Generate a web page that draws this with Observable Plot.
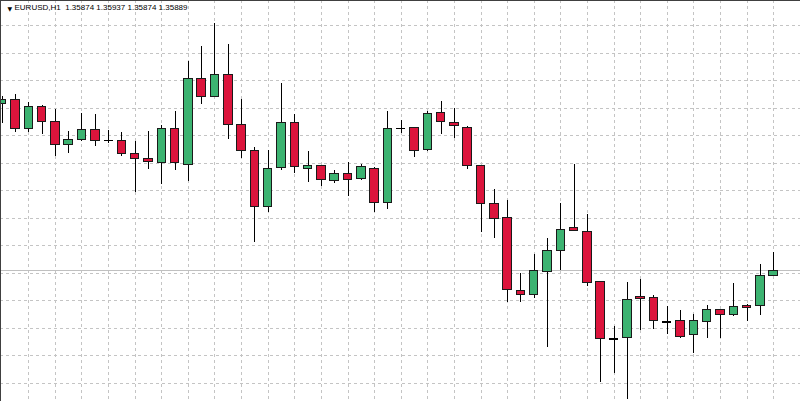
<!DOCTYPE html>
<html>
<head>
<meta charset="utf-8">
<script src="https://cdn.jsdelivr.net/npm/d3@7"></script>
<script src="https://cdn.jsdelivr.net/npm/@observablehq/plot@0.6"></script>
<style>
  html, body { margin: 0; padding: 0; background: #fff; }
  #chart svg { display: block; }
</style>
</head>
<body>
<div id="chart"></div>
<script>
// ---- Data (EURUSD, H1) ----
const symbol = "EURUSD";
const timeframe = "H1";

const open = [
  1.36344, 1.36353, 1.36276, 1.36334, 1.36295, 1.36231, 1.36244, 1.36272, 1.36244, 1.36243,
  1.36208, 1.36193, 1.36183, 1.36274, 1.36178, 1.36412, 1.36362, 1.36423, 1.36286, 1.36216,
  1.36061, 1.36169, 1.36292, 1.36166, 1.36173, 1.36134, 1.36152, 1.36139, 1.36167, 1.36072,
  1.36277, 1.36278, 1.36218, 1.36319, 1.36292, 1.36278, 1.36174, 1.36071, 1.36032, 1.35834,
  1.35823, 1.35886, 1.35941, 1.36004, 1.35995, 1.35857, 1.35702, 1.35706, 1.35817, 1.35815,
  1.35748, 1.35750, 1.35712, 1.35749, 1.35781, 1.35768, 1.35793, 1.35791, 1.35874
];
const high = [
  1.36364, 1.36368, 1.36348, 1.36339, 1.36328, 1.36268, 1.36318, 1.36314, 1.36271, 1.36265,
  1.36242, 1.36268, 1.36284, 1.36323, 1.36460, 1.36500, 1.36562, 1.36505, 1.36355, 1.36225,
  1.36216, 1.36400, 1.36314, 1.36214, 1.36175, 1.36161, 1.36184, 1.36178, 1.36169, 1.36323,
  1.36298, 1.36280, 1.36324, 1.36350, 1.36332, 1.36282, 1.36176, 1.36111, 1.36080, 1.35882,
  1.35932, 1.35976, 1.36073, 1.36177, 1.36041, 1.35859, 1.35736, 1.35857, 1.35864, 1.35820,
  1.35792, 1.35779, 1.35769, 1.35793, 1.35783, 1.35854, 1.35795, 1.35905, 1.35937
];
const low = [
  1.36289, 1.36266, 1.36266, 1.36260, 1.36201, 1.36209, 1.36242, 1.36228, 1.36235, 1.36200,
  1.36101, 1.36164, 1.36124, 1.36162, 1.36133, 1.36342, 1.36360, 1.36247, 1.36194, 1.35965,
  1.36048, 1.36162, 1.36154, 1.36130, 1.36119, 1.36126, 1.36092, 1.36135, 1.36048, 1.36055,
  1.36262, 1.36198, 1.36214, 1.36259, 1.36250, 1.36165, 1.35992, 1.35976, 1.35802, 1.35801,
  1.35814, 1.35680, 1.35889, 1.35995, 1.35846, 1.35583, 1.35609, 1.35536, 1.35725, 1.35729,
  1.35715, 1.35704, 1.35664, 1.35704, 1.35704, 1.35764, 1.35751, 1.35766, 1.35874
];
const close = [
  1.36355, 1.36276, 1.36334, 1.36295, 1.36231, 1.36244, 1.36272, 1.36242, 1.36244, 1.36207,
  1.36192, 1.36185, 1.36274, 1.36181, 1.36412, 1.36362, 1.36423, 1.36286, 1.36216, 1.36061,
  1.36165, 1.36292, 1.36172, 1.36173, 1.36135, 1.36152, 1.36137, 1.36170, 1.36074, 1.36276,
  1.36277, 1.36216, 1.36316, 1.36294, 1.36283, 1.36174, 1.36071, 1.36030, 1.35836, 1.35822,
  1.35887, 1.35942, 1.36000, 1.35997, 1.35856, 1.35701, 1.35702, 1.35809, 1.35812, 1.35751,
  1.35748, 1.35709, 1.35752, 1.35780, 1.35769, 1.35790, 1.35786, 1.35874, 1.35889
];

// horizontal grid levels (price)
const gridPrices = [
  1.36556, 1.36481, 1.36406, 1.36331, 1.36256, 1.36181, 1.36106,
  1.36031, 1.35956, 1.35881, 1.35806, 1.35731, 1.35656, 1.35581
];

// visible window of the chart
const xDomain = [-0.1255, 60.017];
const yDomain = [1.355318, 1.366254];

// ---- Build ----
const candles = open.map((o, i) => ({ i, o, h: high[i], l: low[i], c: close[i] }));
const bodies = candles.filter(d => d.o !== d.c);
const dojis = candles.filter(d => d.o === d.c);
const gridIdx = candles.filter(d => d.i > 0 && d.i % 2 === 0).map(d => d.i);
const last = candles[candles.length - 1];
const fmt = v => v.toFixed(5);
const header = `${symbol},${timeframe}\u00a0\u00a0${fmt(last.o)} ${fmt(last.h)} ${fmt(last.l)} ${fmt(last.c)}`;

const UP = "#3CB371", DOWN = "#DC143C", GRID = "#c4c4c4";

const chart = Plot.plot({
  width: 800,
  height: 401,
  margin: 0,
  style: { background: "#fff", fontFamily: "Liberation Sans, Arial, sans-serif" },
  x: { type: "linear", domain: xDomain, range: [0, 800], axis: null },
  y: { type: "linear", domain: yDomain, range: [401, 0], axis: null },
  marks: [
    Plot.ruleY(gridPrices, { stroke: GRID, strokeDasharray: "3,3", shapeRendering: "crispEdges" }),
    Plot.ruleX(gridIdx, { stroke: GRID, strokeDasharray: "3,3", shapeRendering: "crispEdges" }),
    Plot.ruleY([last.c], { stroke: "#c0c0c0", shapeRendering: "crispEdges" }),
    Plot.ruleX(candles, { x: "i", y1: "l", y2: "h", stroke: "#000", strokeWidth: 1, shapeRendering: "crispEdges" }),
    Plot.rect(bodies, {
      x1: d => d.i - 0.32, x2: d => d.i + 0.32,
      y1: "o", y2: "c",
      fill: d => d.c > d.o ? UP : DOWN,
      stroke: "#1a1a1a", strokeWidth: 1, shapeRendering: "crispEdges"
    }),
    Plot.ruleY(dojis, { y: "o", x1: d => d.i - 0.34, x2: d => d.i + 0.34, stroke: "#000", strokeWidth: 1.5, shapeRendering: "crispEdges" }),
    Plot.ruleY([yDomain[1]], { stroke: "#404040", shapeRendering: "crispEdges" }),
    Plot.ruleX([xDomain[0]], { stroke: "#404040", shapeRendering: "crispEdges" }),
    Plot.text(["\u25BC"], { text: d => d, frameAnchor: "top-left", dx: 7, dy: 6, fontSize: 6, fill: "#000", fontFamily: "DejaVu Sans" }),
    Plot.text([header], { text: d => d, frameAnchor: "top-left", dx: 14, dy: 3.5, textAnchor: "start", lineAnchor: "top", fontSize: 8, fill: "#000" })
  ]
});
document.getElementById("chart").appendChild(chart);
</script>
</body>
</html>
